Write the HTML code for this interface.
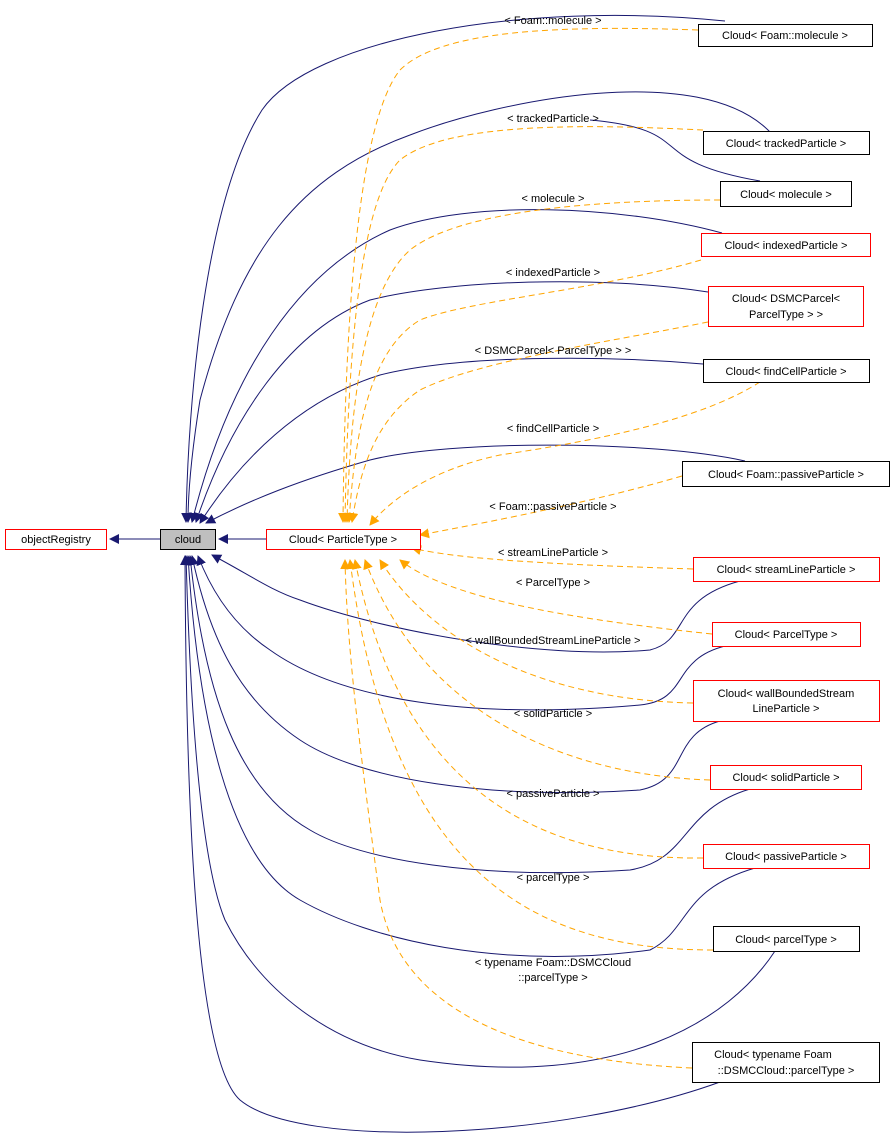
<!DOCTYPE html>
<html><head><meta charset="utf-8"><style>
html,body{margin:0;padding:0;background:#fff;}
svg{display:block;font-family:"Liberation Sans",sans-serif;}
text{font-size:11px;fill:#000;}
</style></head><body>
<svg width="896" height="1142" viewBox="0 0 896 1142">
<defs>
<marker id="an" markerWidth="10" markerHeight="10" refX="9" refY="5" orient="auto" markerUnits="userSpaceOnUse"><path d="M0,0 L10,5 L0,10 z" fill="#191970"/></marker>
<marker id="ao" markerWidth="10" markerHeight="10" refX="9" refY="5" orient="auto" markerUnits="userSpaceOnUse"><path d="M0,0 L10,5 L0,10 z" fill="#ffa500"/></marker>
</defs>
<g fill="none" stroke="#191970" stroke-width="1">
<path d="M160,539 L110,539" marker-end="url(#an)"/>
<path d="M266,539 L219,539" marker-end="url(#an)"/>
<path d="M725,21 C520,0 310,40 262,110 C205,200 188,400 186,522" marker-end="url(#an)"/>
<path d="M770,132 C700,60 500,100 410,135 C300,175 240,250 200,400 C192,450 188,490 188,522" marker-end="url(#an)"/>
<path d="M760,181 C640,160 700,130 590,120" />
<path d="M722,233 C620,205 470,200 390,230 C300,270 230,370 192,522" marker-end="url(#an)"/>
<path d="M708,292 C600,275 450,280 370,300 C290,330 230,420 196,522" marker-end="url(#an)"/>
<path d="M703,364 C600,355 460,355 380,375 C300,400 240,460 200,523" marker-end="url(#an)"/>
<path d="M745,461 C650,440 450,440 370,460 C300,480 250,500 206,523" marker-end="url(#an)"/>
<path d="M740,581 C670,600 690,640 650,650 C540,660 380,630 300,600 C270,590 250,575 212,555" marker-end="url(#an)"/>
<path d="M725,646 C670,660 690,700 640,705 C470,720 340,700 270,650 C240,630 215,600 198,556" marker-end="url(#an)"/>
<path d="M720,721 C670,735 690,780 640,790 C490,800 360,780 300,740 C240,700 210,640 192,556" marker-end="url(#an)"/>
<path d="M750,789 C680,810 690,860 630,870 C480,880 360,860 310,830 C240,790 205,700 190,556" marker-end="url(#an)"/>
<path d="M755,868 C680,890 690,930 650,950 C500,970 370,940 300,900 C230,860 198,720 188,556" marker-end="url(#an)"/>
<path d="M775,951 C730,1020 620,1090 420,1060 C330,1045 260,990 225,920 C200,860 190,700 186,556" marker-end="url(#an)"/>
<path d="M720,1082 C560,1140 300,1150 240,1100 C195,1060 186,800 185,556" marker-end="url(#an)"/>
</g>
<g fill="none" stroke="#ffa500" stroke-width="1" stroke-dasharray="6,4">
<path d="M698,30 C560,25 440,30 400,70 C360,120 345,300 343,522" marker-end="url(#ao)"/>
<path d="M703,130 C600,125 450,120 400,160 C360,200 348,350 345,522" marker-end="url(#ao)"/>
<path d="M720,200 C600,200 460,210 410,250 C365,290 350,400 347,522" marker-end="url(#ao)"/>
<path d="M701,260 C600,290 470,300 420,320 C370,350 355,430 349,522" marker-end="url(#ao)"/>
<path d="M708,322 C620,340 480,360 420,390 C375,420 360,470 352,522" marker-end="url(#ao)"/>
<path d="M760,382 C700,420 600,440 500,455 C430,470 390,500 370,525" marker-end="url(#ao)"/>
<path d="M682,476 C600,500 500,520 420,535" marker-end="url(#ao)"/>
<path d="M693,569 C570,565 460,560 412,548" marker-end="url(#ao)"/>
<path d="M712,634 C580,620 450,600 400,560" marker-end="url(#ao)"/>
<path d="M693,703 C540,700 430,640 380,560" marker-end="url(#ao)"/>
<path d="M710,780 C560,775 420,710 365,560" marker-end="url(#ao)"/>
<path d="M703,858 C540,860 400,790 355,560" marker-end="url(#ao)"/>
<path d="M713,950 C540,950 390,880 350,560" marker-end="url(#ao)"/>
<path d="M692,1068 C520,1060 400,1010 380,900 C360,750 347,650 345,560" marker-end="url(#ao)"/>
</g>
<g text-anchor="middle">
<text x="553" y="24">&lt; Foam::molecule &gt;</text>
<text x="553" y="122">&lt; trackedParticle &gt;</text>
<text x="553" y="202">&lt; molecule &gt;</text>
<text x="553" y="276">&lt; indexedParticle &gt;</text>
<text x="553" y="354">&lt; DSMCParcel&lt; ParcelType &gt; &gt;</text>
<text x="553" y="432">&lt; findCellParticle &gt;</text>
<text x="553" y="510">&lt; Foam::passiveParticle &gt;</text>
<text x="553" y="556">&lt; streamLineParticle &gt;</text>
<text x="553" y="586">&lt; ParcelType &gt;</text>
<text x="553" y="644">&lt; wallBoundedStreamLineParticle &gt;</text>
<text x="553" y="717">&lt; solidParticle &gt;</text>
<text x="553" y="797">&lt; passiveParticle &gt;</text>
<text x="553" y="881">&lt; parcelType &gt;</text>
<text x="553" y="966">&lt; typename Foam::DSMCCloud</text>
<text x="553" y="981">::parcelType &gt;</text>
</g>
<g stroke-width="1" text-anchor="middle">
<g><rect x="5.5" y="529.5" width="101" height="20" fill="#fff" stroke="#ff0000"/><text x="56" y="543">objectRegistry</text></g>
<g><rect x="160.5" y="529.5" width="55" height="20" fill="#bfbfbf" stroke="#000"/><text x="188" y="543">cloud</text></g>
<g><rect x="266.5" y="529.5" width="154" height="20" fill="#fff" stroke="#ff0000"/><text x="343" y="543">Cloud&lt; ParticleType &gt;</text></g>
<g><rect x="698.5" y="24.5" width="174" height="22" fill="#fff" stroke="#000"/><text x="785" y="39">Cloud&lt; Foam::molecule &gt;</text></g>
<g><rect x="703.5" y="131.5" width="166" height="23" fill="#fff" stroke="#000"/><text x="786" y="147">Cloud&lt; trackedParticle &gt;</text></g>
<g><rect x="720.5" y="181.5" width="131" height="25" fill="#fff" stroke="#000"/><text x="786" y="198">Cloud&lt; molecule &gt;</text></g>
<g><rect x="701.5" y="233.5" width="169" height="23" fill="#fff" stroke="#ff0000"/><text x="786" y="249">Cloud&lt; indexedParticle &gt;</text></g>
<g><rect x="708.5" y="286.5" width="155" height="40" fill="#fff" stroke="#ff0000"/><text x="786" y="302">Cloud&lt; DSMCParcel&lt;</text><text x="786" y="318">ParcelType &gt; &gt;</text></g>
<g><rect x="703.5" y="359.5" width="166" height="23" fill="#fff" stroke="#000"/><text x="786" y="375">Cloud&lt; findCellParticle &gt;</text></g>
<g><rect x="682.5" y="461.5" width="207" height="25" fill="#fff" stroke="#000"/><text x="786" y="478">Cloud&lt; Foam::passiveParticle &gt;</text></g>
<g><rect x="693.5" y="557.5" width="186" height="24" fill="#fff" stroke="#ff0000"/><text x="786" y="573">Cloud&lt; streamLineParticle &gt;</text></g>
<g><rect x="712.5" y="622.5" width="148" height="24" fill="#fff" stroke="#ff0000"/><text x="786" y="638">Cloud&lt; ParcelType &gt;</text></g>
<g><rect x="693.5" y="680.5" width="186" height="41" fill="#fff" stroke="#ff0000"/><text x="786" y="697">Cloud&lt; wallBoundedStream</text><text x="786" y="712">LineParticle &gt;</text></g>
<g><rect x="710.5" y="765.5" width="151" height="24" fill="#fff" stroke="#ff0000"/><text x="786" y="781">Cloud&lt; solidParticle &gt;</text></g>
<g><rect x="703.5" y="844.5" width="166" height="24" fill="#fff" stroke="#ff0000"/><text x="786" y="860">Cloud&lt; passiveParticle &gt;</text></g>
<g><rect x="713.5" y="926.5" width="146" height="25" fill="#fff" stroke="#000"/><text x="786" y="943">Cloud&lt; parcelType &gt;</text></g>
<g><rect x="692.5" y="1042.5" width="187" height="40" fill="#fff" stroke="#000"/><text x="773" y="1058">Cloud&lt; typename Foam</text><text x="786" y="1074">::DSMCCloud::parcelType &gt;</text></g>
</g>
</svg>
</body></html>
